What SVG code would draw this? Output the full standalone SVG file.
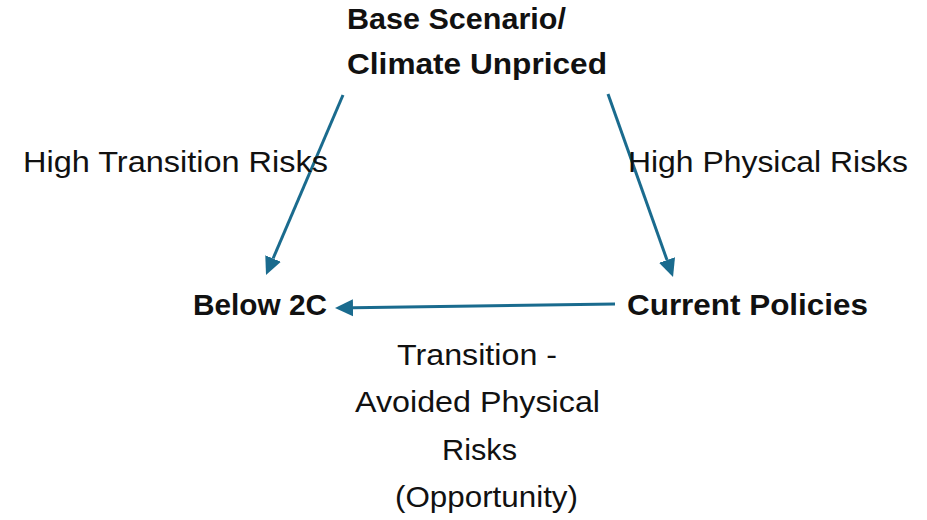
<svg xmlns="http://www.w3.org/2000/svg" width="927" height="520" viewBox="0 0 927 520">
<defs>
<style>
.node{font-family:"Liberation Sans",Arial,sans-serif;font-weight:bold;font-size:30px;fill:#111}
.lbl{font-family:"Liberation Sans",Arial,sans-serif;font-size:29px;fill:#111}
.edge{stroke:#1A6B8E;stroke-width:3;fill:none}
</style>
<marker id="ah" viewBox="0 -10 20 20" refX="0" refY="0" markerWidth="20" markerHeight="20" markerUnits="userSpaceOnUse" orient="auto">
<path d="M0,-8.5 L18,0 L0,8.5 z" fill="#1A6B8E"/>
</marker>
</defs>
<rect width="927" height="520" fill="#ffffff"/>
<g id="connectors">
<line class="edge" x1="343" y1="95" x2="273.1" y2="258.5" marker-end="url(#ah)"/>
<line class="edge" x1="608" y1="94" x2="667" y2="260" marker-end="url(#ah)"/>
<line class="edge" x1="615" y1="304" x2="353" y2="307.7" marker-end="url(#ah)"/>
</g>
<g id="node-base">
<text class="node" x="347" y="29" textLength="219" lengthAdjust="spacingAndGlyphs">Base Scenario/</text>
<text class="node" x="347" y="74" textLength="260" lengthAdjust="spacingAndGlyphs">Climate Unpriced</text>
</g>
<g id="node-below2c">
<text class="node" x="193" y="315" textLength="134" lengthAdjust="spacingAndGlyphs">Below 2C</text>
</g>
<g id="node-current">
<text class="node" x="627" y="315" textLength="241" lengthAdjust="spacingAndGlyphs">Current Policies</text>
</g>
<g id="labels">
<text class="lbl" x="23" y="172" textLength="305" lengthAdjust="spacingAndGlyphs">High Transition Risks</text>
<text class="lbl" x="628" y="172" textLength="280" lengthAdjust="spacingAndGlyphs">High Physical Risks</text>
<text class="lbl" x="397" y="365" textLength="160" lengthAdjust="spacingAndGlyphs">Transition -</text>
<text class="lbl" x="355" y="412" textLength="245" lengthAdjust="spacingAndGlyphs">Avoided Physical</text>
<text class="lbl" x="442" y="460" textLength="75" lengthAdjust="spacingAndGlyphs">Risks</text>
<text class="lbl" x="395" y="507" textLength="183" lengthAdjust="spacingAndGlyphs">(Opportunity)</text>
</g>
</svg>
